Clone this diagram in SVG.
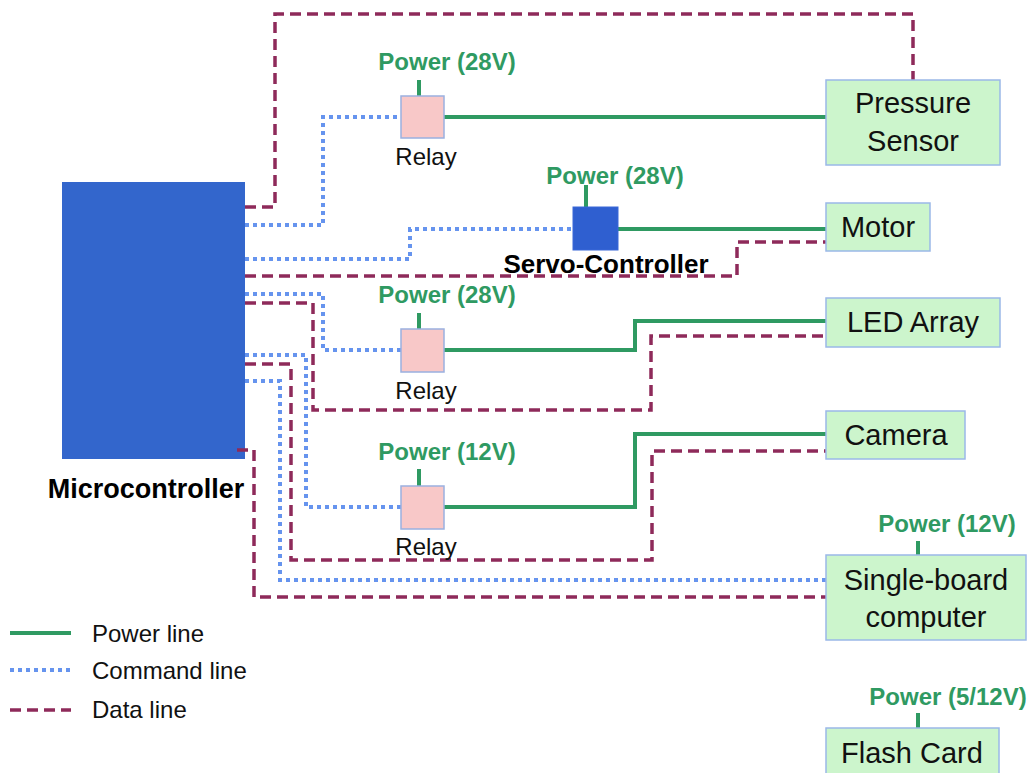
<svg xmlns="http://www.w3.org/2000/svg" width="1031" height="773" viewBox="0 0 1031 773">
<style>
.pw{fill:none;stroke:#2f9a62;stroke-width:4}
.cmd{fill:none;stroke:#6694ee;stroke-width:4;stroke-dasharray:4 4}
.dat{fill:none;stroke:#8e2a5a;stroke-width:3.5;stroke-dasharray:11 6}
.box{fill:#ccf5cc;stroke:#9ab8e8;stroke-width:1.5}
.relay{fill:#f8c8c8;stroke:#9ab0e0;stroke-width:1.5}
.t{font-family:"Liberation Sans",Arial,sans-serif;font-size:29px;fill:#111;text-anchor:middle}
.pl{font-family:"Liberation Sans",Arial,sans-serif;font-size:24px;font-weight:bold;fill:#2f9a62;text-anchor:middle}
.rl{font-family:"Liberation Sans",Arial,sans-serif;font-size:24px;fill:#111;text-anchor:middle}
.bl{font-family:"Liberation Sans",Arial,sans-serif;font-size:26px;font-weight:bold;fill:#000;text-anchor:middle}
.lg{font-family:"Liberation Sans",Arial,sans-serif;font-size:24px;fill:#111}
</style>
<rect width="1031" height="773" fill="#fff"/>
<g id="microcontroller">
<rect x="62" y="182" width="183" height="277" fill="#3366cc"/>
<text class="bl" x="146" y="498" style="font-size:27px">Microcontroller</text>
</g>
<g id="connectors">
<path class="dat" d="M245 207H275V14H913V80"/>
<path class="cmd" d="M245 225H323V117H401"/>
<path class="pw" d="M444 117H826"/>
<path class="cmd" d="M245 259H410V229H573"/>
<path class="pw" d="M618 229H826"/>
<path class="dat" d="M245 276H737V242H826"/>
<path class="cmd" d="M245 294H323V350H401"/>
<path class="pw" d="M444 350H635V321H826"/>
<path class="dat" d="M245 303H313V410H651V336H826"/>
<path class="cmd" d="M245 355H306V507H401"/>
<path class="pw" d="M444 507H635V434H826"/>
<path class="dat" d="M245 364H291V560H652V451H826"/>
<path class="cmd" d="M245 381H280V580H826"/>
<path class="dat" d="M237 450H254V597H826"/>
<path class="pw" d="M419 80V96M586 185V207M419 313V329M419 469V486M918 541V555M918 713V728"/>
</g>
<g id="relay1">
<text class="pl" x="447" y="70">Power (28V)</text>
<rect class="relay" x="401" y="96" width="43" height="42"/>
<text class="rl" x="426" y="165">Relay</text>
</g>
<g id="servo">
<text class="pl" x="615" y="184">Power (28V)</text>
<rect x="573" y="207" width="45" height="43" fill="#2f5fd0" stroke="#3a68d8"/>
<text class="bl" x="606" y="273">Servo-Controller</text>
</g>
<g id="relay2">
<text class="pl" x="447" y="303">Power (28V)</text>
<rect class="relay" x="401" y="329" width="43" height="43"/>
<text class="rl" x="426" y="399">Relay</text>
</g>
<g id="relay3">
<text class="pl" x="447" y="460">Power (12V)</text>
<rect class="relay" x="401" y="486" width="43" height="43"/>
<text class="rl" x="426" y="555">Relay</text>
</g>
<g id="pressure-sensor">
<rect class="box" x="826" y="80" width="174" height="85"/>
<text class="t" x="913" y="113">Pressure</text>
<text class="t" x="913" y="151">Sensor</text>
</g>
<g id="motor">
<rect class="box" x="826" y="203" width="104" height="48"/>
<text class="t" x="878" y="237">Motor</text>
</g>
<g id="led-array">
<rect class="box" x="826" y="298" width="174" height="49"/>
<text class="t" x="913" y="332">LED Array</text>
</g>
<g id="camera">
<rect class="box" x="826" y="411" width="139" height="48"/>
<text class="t" x="896" y="445">Camera</text>
</g>
<g id="single-board-computer">
<text class="pl" x="947" y="532">Power (12V)</text>
<rect class="box" x="826" y="555" width="200" height="85"/>
<text class="t" x="926" y="590">Single-board</text>
<text class="t" x="926" y="627">computer</text>
</g>
<g id="flash-card">
<text class="pl" x="948" y="705">Power (5/12V)</text>
<rect class="box" x="826" y="728" width="173" height="60"/>
<text class="t" x="912" y="763">Flash Card</text>
</g>
<g id="legend">
<line class="pw" x1="10" y1="633" x2="71" y2="633"/>
<text class="lg" x="92" y="642">Power line</text>
<line class="cmd" x1="10" y1="670" x2="71" y2="670"/>
<text class="lg" x="92" y="679">Command line</text>
<line class="dat" x1="10" y1="710" x2="71" y2="710"/>
<text class="lg" x="92" y="718">Data line</text>
</g>
</svg>
